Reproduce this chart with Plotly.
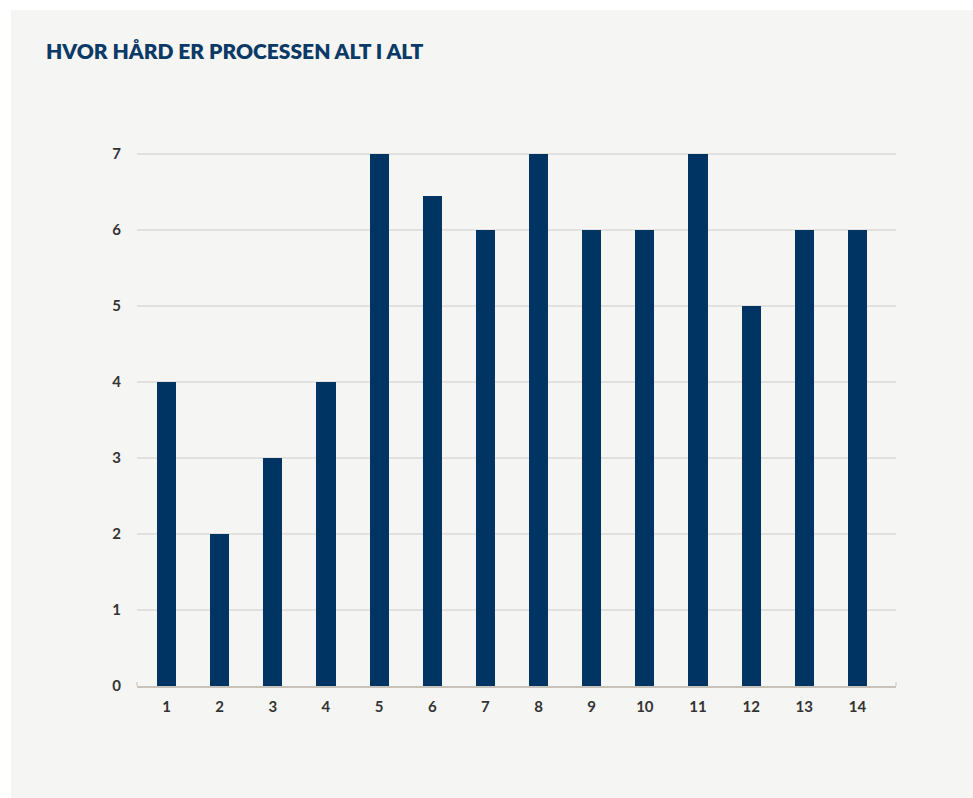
import plotly.graph_objects as go

categories = [1, 2, 3, 4, 5, 6, 7, 8, 9, 10, 11, 12, 13, 14]
values = [4, 2, 3, 4, 7, 6.45, 6, 7, 6, 6, 7, 5, 6, 6]
y_ticks = [0, 1, 2, 3, 4, 5, 6, 7]
title_text = "HVOR HÅRD ER PROCESSEN ALT I ALT"

W, H = 973, 798
L, R, T, B = 137, 77, 135, 112
pw = W - L - R
ph = H - T - B

BG = "#f5f5f3"
NAVY = "#003463"

fig = go.Figure()
fig.add_trace(go.Bar(
    x=categories, y=values,
    marker=dict(color=NAVY, line=dict(width=0)),
    width=0.36,
    hoverinfo="x+y",
))

def px_to_paper_x(px):
    return (px - L) / pw

def px_to_paper_y(py):
    return (H - B - py) / ph

shapes = [
    dict(type="rect", xref="paper", yref="paper", layer="below",
         x0=px_to_paper_x(11), x1=px_to_paper_x(973),
         y0=px_to_paper_y(798), y1=px_to_paper_y(10),
         fillcolor=BG, line=dict(width=0)),
    dict(type="line", xref="paper", yref="paper",
         x0=0, x1=0, y0=0, y1=px_to_paper_y(682),
         line=dict(color="#c9c2b8", width=1)),
    dict(type="line", xref="paper", yref="paper",
         x0=1, x1=1, y0=0, y1=px_to_paper_y(682),
         line=dict(color="#c9c2b8", width=1)),
]

tick_font = dict(family="Lato, 'Open Sans', sans-serif", size=15, color="#333333", weight=700)

fig.update_layout(
    width=W, height=H,
    margin=dict(l=L, r=R, t=T, b=B, pad=0),
    paper_bgcolor="#ffffff",
    plot_bgcolor=BG,
    showlegend=False,
    shapes=shapes,
    bargap=0,
    title=dict(
        text=title_text,
        x=46 / W, xanchor="left", xref="container",
        y=1 - 52 / H, yanchor="middle", yref="container",
        font=dict(family="Lato, 'Open Sans', sans-serif", size=21, color="#0b3a67", weight=800),
    ),
    xaxis=dict(
        range=[0.445, 14.725],
        tickmode="array", tickvals=categories, ticktext=[str(c) for c in categories],
        showgrid=False, zeroline=False,
        showline=True, linecolor="#c9c2b8", linewidth=1.5,
        ticks="outside", ticklen=6, tickcolor="rgba(0,0,0,0)",
        tickfont=tick_font, fixedrange=True,
    ),
    yaxis=dict(
        range=[0, ph / 76.0],
        tickmode="array", tickvals=y_ticks, ticktext=[str(v) for v in y_ticks],
        showgrid=True, gridcolor="#e2e1dd", gridwidth=1.5,
        zeroline=False, showline=False,
        ticks="outside", ticklen=12, tickcolor="rgba(0,0,0,0)",
        tickfont=tick_font, fixedrange=True,
    ),
)

fig.write_html("out.html")
